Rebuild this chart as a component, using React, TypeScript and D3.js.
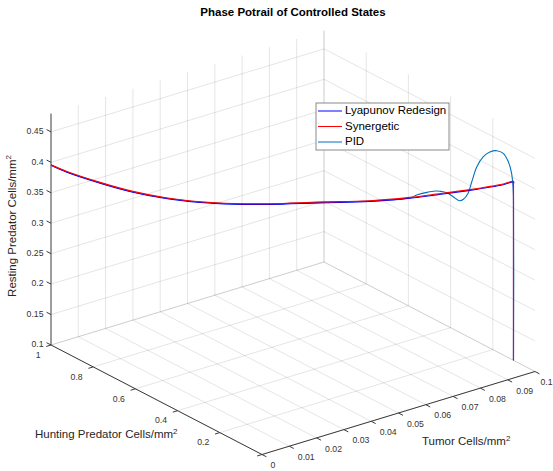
import React from "react";
import * as d3 from "d3";

const W = 553;
const H = 471;
const FONT = "'Liberation Sans', Arial, Helvetica, sans-serif";

// Axis limits
const tumorDomain = [0, 0.1];
const huntingDomain = [0, 1];
const restingDomain = [0.1, 0.48];

// Ticks
const tumorTicks = [0, 0.01, 0.02, 0.03, 0.04, 0.05, 0.06, 0.07, 0.08, 0.09, 0.1];
const tumorTickLabels = ["0", "0.01", "0.02", "0.03", "0.04", "0.05", "0.06", "0.07", "0.08", "0.09", "0.1"];
const huntingTicks = [0, 0.2, 0.4, 0.6, 0.8, 1];
const huntingTickLabels = ["", "0.2", "0.4", "0.6", "0.8", "1"];
const restingTicks = [0.1, 0.15, 0.2, 0.25, 0.3, 0.35, 0.4, 0.45];
const restingTickLabels = ["0.1", "0.15", "0.2", "0.25", "0.3", "0.35", "0.4", "0.45"];

// Lyapunov Redesign trajectory
const lyapTumor = [0.1, 0.1, 0.1, 0.0977, 0.0905, 0.0833, 0.0776, 0.0689, 0.0581, 0.0473, 0.0393, 0.0322, 0.0251, 0.0177, 0.0106, 0.0034, 0];
const lyapHunting = [0.102, 0.102, 0.102, 0.121, 0.186, 0.25, 0.302, 0.38, 0.477, 0.574, 0.646, 0.71, 0.774, 0.841, 0.905, 0.969, 1];
const lyapResting = [0.1, 0.389, 0.3928, 0.388, 0.3769, 0.3679, 0.3609, 0.3532, 0.3483, 0.3429, 0.3412, 0.3422, 0.3465, 0.3554, 0.3684, 0.3846, 0.395];

// Synergetic trajectory
const synTumor = [0.1, 0.1, 0.1, 0.0977, 0.0905, 0.0833, 0.0776, 0.0689, 0.0581, 0.0473, 0.0393, 0.0322, 0.0251, 0.0177, 0.0106, 0.0034, 0];
const synHunting = [0.102, 0.102, 0.102, 0.121, 0.186, 0.25, 0.302, 0.38, 0.477, 0.574, 0.646, 0.71, 0.774, 0.841, 0.905, 0.969, 1];
const synResting = [0.1, 0.39, 0.394, 0.3893, 0.3782, 0.3692, 0.3622, 0.3545, 0.3496, 0.3442, 0.3425, 0.3435, 0.3478, 0.3567, 0.3697, 0.3859, 0.3958];

// PID trajectory
const pidTumor = [0.1, 0.1, 0.0999, 0.0995, 0.0988, 0.0977, 0.0963, 0.0948, 0.0934, 0.092, 0.0909, 0.0901, 0.0891, 0.0882, 0.0869, 0.0855, 0.084, 0.083, 0.0812, 0.079, 0.0776, 0.0689, 0.0581, 0.0473, 0.0393, 0.0322, 0.0251, 0.0177, 0.0106, 0.0034, 0];
const pidHunting = [0.102, 0.102, 0.1029, 0.1045, 0.1108, 0.1207, 0.1333, 0.1468, 0.1594, 0.172, 0.1819, 0.1891, 0.1981, 0.2062, 0.2179, 0.2305, 0.244, 0.253, 0.2692, 0.289, 0.3016, 0.38, 0.477, 0.574, 0.646, 0.71, 0.774, 0.841, 0.905, 0.969, 1];
const pidResting = [0.1, 0.3686, 0.3854, 0.4074, 0.4262, 0.4397, 0.4437, 0.4411, 0.433, 0.4162, 0.3913, 0.3721, 0.362, 0.3594, 0.3657, 0.3719, 0.3739, 0.3741, 0.3714, 0.3665, 0.3617, 0.354, 0.3491, 0.3437, 0.342, 0.343, 0.3473, 0.3562, 0.3692, 0.3854, 0.3956];

const seriesNames = ["Lyapunov Redesign", "Synergetic", "PID"];
const seriesColors = ["#0000ff", "#ff0000", "#0072bd"];

// Orthographic view of the axes box: screen offsets of the floor corner and unit edges
const ORIGIN = { x: 262, y: 454.5 };
const X_EDGE = { x: 273, y: -83 };
const Y_EDGE = { x: -211, y: -109.5 };
const Z_LEN = 231.4;

const xs = d3.scaleLinear().domain(tumorDomain).range([0, 1]);
const ys = d3.scaleLinear().domain(huntingDomain).range([0, 1]);
const zs = d3.scaleLinear().domain(restingDomain).range([0, Z_LEN]);

function project(t: number, h: number, r: number): [number, number] {
  const u = xs(t);
  const v = ys(h);
  return [
    ORIGIN.x + u * X_EDGE.x + v * Y_EDGE.x,
    ORIGIN.y + u * X_EDGE.y + v * Y_EDGE.y - zs(r),
  ];
}

const seg = (a: [number, number], b: [number, number]) => `M${a[0]},${a[1]}L${b[0]},${b[1]}`;

const norm = (v: { x: number; y: number }) => {
  const l = Math.hypot(v.x, v.y);
  return { x: v.x / l, y: v.y / l };
};

export default function App() {
  const [t0, t1] = tumorDomain;
  const [h0, h1] = huntingDomain;
  const [r0, r1] = restingDomain;

  // Grid: floor, back wall (hunting = max), side wall (tumor = max)
  const grid: string[] = [];
  tumorTicks.forEach((t) => {
    grid.push(seg(project(t, h0, r0), project(t, h1, r0)));
    if (t > t0) grid.push(seg(project(t, h1, r0), project(t, h1, r1)));
  });
  huntingTicks.forEach((h) => {
    grid.push(seg(project(t0, h, r0), project(t1, h, r0)));
    if (h > h0) grid.push(seg(project(t1, h, r0), project(t1, h, r1)));
  });
  restingTicks.forEach((r) => {
    grid.push(seg(project(t0, h1, r), project(t1, h1, r)));
    grid.push(seg(project(t1, h1, r), project(t1, h0, r)));
  });

  const tickLen = 5;
  const xDir = norm(X_EDGE);
  const yDir = norm(Y_EDGE);

  const line = d3
    .line<[number, number]>()
    .x((d) => d[0])
    .y((d) => d[1])
    .curve(d3.curveCatmullRom.alpha(0.5));

  const pts = (T: number[], Hh: number[], R: number[]) =>
    T.map((t, i) => project(t, Hh[i], R[i]));

  const pidPath = line(pts(pidTumor, pidHunting, pidResting)) || "";
  const lyapPath = line(pts(lyapTumor, lyapHunting, lyapResting)) || "";
  const synPath = line(pts(synTumor, synHunting, synResting)) || "";

  const axisColor = "#3a3a3a";
  const labelColor = "#333";

  // Legend
  const lg = { x: 316, y: 103, w: 133, h: 47 };
  const rowY = [111, 126.5, 142];

  return (
    <svg
      width={W}
      height={H}
      viewBox={`0 0 ${W} ${H}`}
      style={{ position: "absolute", left: 0, top: 0, background: "#fff" }}
      fontFamily={FONT}
    >
      <rect width={W} height={H} fill="#fff" />
      <g stroke="#262626" strokeOpacity={0.12} strokeWidth={1} fill="none">
        {grid.map((d, i) => (
          <path key={i} d={d} />
        ))}
      </g>

      {/* axis lines */}
      <g stroke={axisColor} strokeWidth={1} fill="none">
        <path d={seg(project(t0, h1, r0), project(t0, h1, r1))} />
        <path d={seg(project(t0, h0, r0), project(t0, h1, r0))} />
        <path d={seg(project(t0, h0, r0), project(t1, h0, r0))} />
        {restingTicks.map((r, i) => {
          const p = project(t0, h1, r);
          return <path key={"zt" + i} d={seg(p, [p[0] + yDir.x * tickLen, p[1] + yDir.y * tickLen])} />;
        })}
        {huntingTicks.map((h, i) => {
          const p = project(t0, h, r0);
          return <path key={"yt" + i} d={seg(p, [p[0] - xDir.x * tickLen, p[1] - xDir.y * tickLen])} />;
        })}
        {tumorTicks.map((t, i) => {
          const p = project(t, h0, r0);
          return <path key={"xt" + i} d={seg(p, [p[0] - yDir.x * tickLen, p[1] - yDir.y * tickLen])} />;
        })}
      </g>

      {/* tick labels */}
      <g fontSize={8.7} fill={labelColor}>
        {restingTicks.map((r, i) => {
          const p = project(t0, h1, r);
          return (
            <text key={"zl" + i} x={p[0] - 7.5} y={p[1]} textAnchor="end" dominantBaseline="middle">
              {restingTickLabels[i]}
            </text>
          );
        })}
        {huntingTicks.map((h, i) => {
          const p = project(t0, h, r0);
          return (
            <text key={"yl" + i} x={p[0] - 10.5} y={p[1] + 10.5} textAnchor="end" dominantBaseline="middle">
              {huntingTickLabels[i]}
            </text>
          );
        })}
        {tumorTicks.map((t, i) => {
          const p = project(t, h0, r0);
          const last = i === tumorTicks.length - 1;
          return (
            <text key={"xl" + i} x={p[0] + (last ? 5.5 : 8.5)} y={p[1] + 11.5} textAnchor="start" dominantBaseline="middle">
              {tumorTickLabels[i]}
            </text>
          );
        })}
      </g>

      {/* data */}
      <g fill="none" strokeLinejoin="round">
        <path d={pidPath} stroke={seriesColors[2]} strokeWidth={1.1} />
        <path d={lyapPath} stroke={seriesColors[0]} strokeWidth={1.1} />
        <path d={synPath} stroke={seriesColors[1]} strokeWidth={1.1} />
      </g>

      {/* axis labels */}
      <g fontSize={11.5} fill="#262626">
        <text x={13} y={226} textAnchor="middle" dominantBaseline="middle" transform="rotate(-90 13 226)">
          Resting Predator Cells/mm<tspan dy={-4} fontSize={8}>2</tspan>
        </text>
        <text x={35} y={438}>
          Hunting Predator Cells/mm<tspan dy={-4} fontSize={8}>2</tspan>
        </text>
        <text x={422} y={445}>
          Tumor Cells/mm<tspan dy={-4} fontSize={8}>2</tspan>
        </text>
      </g>

      {/* title */}
      <text x={293} y={16} textAnchor="middle" fontSize={11.5} fontWeight="bold" fill="#000">
        Phase Potrail of Controlled States
      </text>

      {/* legend */}
      <g>
        <rect x={lg.x} y={lg.y} width={lg.w} height={lg.h} fill="#fff" stroke="#8a8a8a" strokeWidth={1} />
        {seriesNames.map((name, i) => (
          <g key={name}>
            <line x1={318} x2={342} y1={rowY[i]} y2={rowY[i]} stroke={seriesColors[i]} strokeWidth={1} />
            <text x={345} y={rowY[i]} dominantBaseline="middle" fontSize={11.5} fill="#000">
              {name}
            </text>
          </g>
        ))}
      </g>
    </svg>
  );
}
